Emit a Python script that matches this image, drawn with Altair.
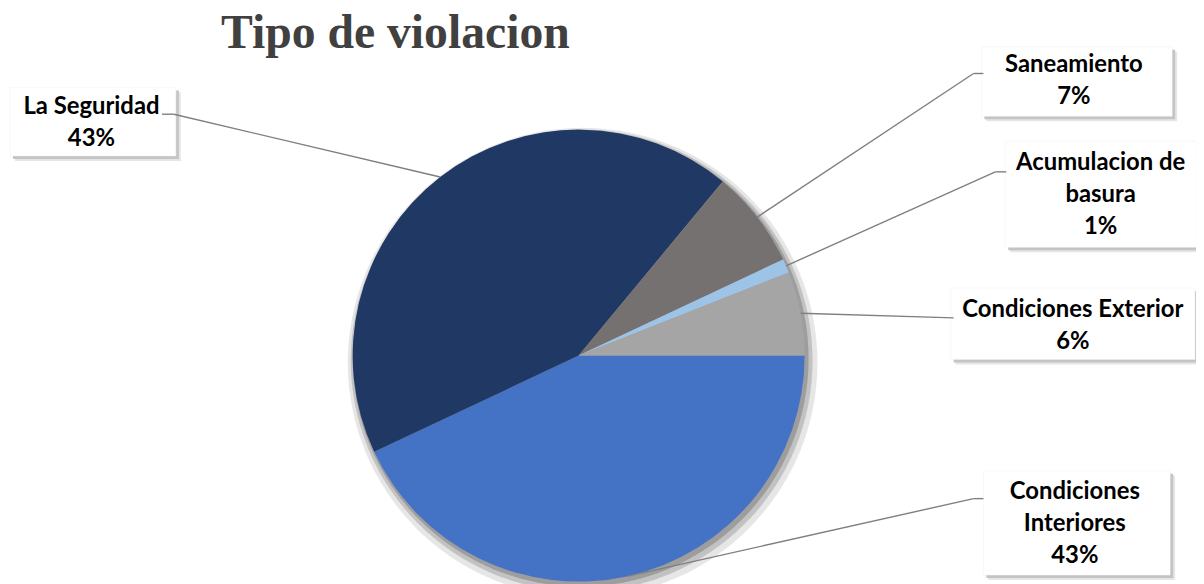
import math
import numpy as np
import pandas as pd
import altair as alt

# ---------------- data ----------------
categories = ["Condiciones Interiores", "La Seguridad", "Saneamiento",
              "Acumulacion de basura", "Condiciones Exterior"]
values = [43, 43, 7, 1, 6]
label_lines = [["Condiciones", "Interiores"], ["La Seguridad"], ["Saneamiento"],
               ["Acumulacion de", "basura"], ["Condiciones Exterior"]]
colors = ["#4472C4", "#203864", "#767171", "#9DC3E6", "#A5A5A5"]
title_text = "Tipo de violacion"

# ---------------- layout (page pixel coordinates) ----------------
X0, Y0 = 8, 8                  # plot origin on page
W, H = 1196, 576
CX, CY, R = 582.5, 356.0, 227.5
START = math.pi / 2            # first slice starts at 3 o'clock
LINE_H = 32.5
TITLE_POS = (398, 46)
# label box (x0, x1, y0, y1), text centre x, first line y, leader knee points
label_layout = [
    dict(box=(990, 1178, 472, 577), tx=1082, ty=493, knee=[(980, 500), (990, 500)]),
    dict(box=(10, 177, 86, 155), tx=92, ty=105.5, knee=[(175, 113), (163, 113)]),
    dict(box=(988, 1180, 45, 115), tx=1081, ty=63.5, knee=[(980, 72), (990, 72)]),
    dict(box=(1012, 1204, 140, 247), tx=1108, ty=162, knee=[(1002, 171), (1013, 171)]),
    dict(box=(957, 1203, 288, 360), tx=1080, ty=310, knee=[(960, 318)]),
]

# ---------------- derived tables ----------------
total = sum(values)
pie_df = pd.DataFrame({"cat": categories, "value": values, "order": range(len(values))})

cum = np.cumsum([0] + values)
boxes, texts, segs = [], [], []
for i, (cat, v) in enumerate(zip(categories, values)):
    lay = label_layout[i]
    x0, x1, y0, y1 = lay["box"]
    boxes.append(dict(cat=cat, x=x0, x2=x1, y=y0, y2=y1))
    lines = label_lines[i] + [f"{v}%"]
    for k, t in enumerate(lines):
        texts.append(dict(cat=cat, x=lay["tx"], y=lay["ty"] + k * LINE_H, t=t))
    mid = START + 2 * math.pi * (cum[i] + v / 2) / total
    px, py = CX + R * math.sin(mid), CY - R * math.cos(mid)
    pts = [(px, py)] + lay["knee"]
    for a, b in zip(pts[:-1], pts[1:]):
        segs.append(dict(cat=cat, x=a[0], y=a[1], x2=b[0], y2=b[1]))

box_df = pd.DataFrame(boxes)
text_df = pd.DataFrame(texts)
seg_df = pd.DataFrame(segs)
title_df = pd.DataFrame({"x": [TITLE_POS[0]], "y": [TITLE_POS[1]], "t": [title_text]})

xs = alt.Scale(domain=[X0, X0 + W], range=[0, W], nice=False, zero=False)
ys = alt.Scale(domain=[Y0, Y0 + H], range=[0, H], nice=False, zero=False)

# ---------------- layers ----------------
def ring(dx, dy, dr, op):
    return alt.Chart(pie_df).mark_arc(color="#000000", opacity=op, theta=0, theta2=2 * math.pi).encode(
        x=alt.value(CX - X0 + dx), y=alt.value(CY - Y0 + dy), radius=alt.value(R + dr))

shadows = [ring(4, 7, 9, 0.02), ring(3, 5, 5, 0.03), ring(2, 3, 2, 0.04)]

pie = alt.Chart(pie_df).mark_arc(stroke=None).encode(
    theta=alt.Theta("value:Q", stack=True,
                    scale=alt.Scale(range=[START, START + 2 * math.pi])),
    color=alt.Color("cat:N", scale=alt.Scale(domain=categories, range=colors), legend=None),
    order=alt.Order("order:Q"),
    x=alt.value(CX - X0), y=alt.value(CY - Y0), radius=alt.value(R),
)

def rect_layer(color, off, **kw):
    return alt.Chart(box_df).mark_rect(color=color, xOffset=off, yOffset=off,
                                       x2Offset=off, y2Offset=off, **kw).encode(
        x=alt.X("x:Q", scale=xs, axis=None), x2="x2",
        y=alt.Y("y:Q", scale=ys, axis=None), y2="y2")

box_shadow2 = rect_layer("#e6e6e6", 5)
box_shadow1 = rect_layer("#c4c4c4", 3)
box = rect_layer("#ffffff", 0, stroke="#f0f0f0", strokeWidth=0.5)

leaders = alt.Chart(seg_df).mark_rule(color="#7f7f7f", strokeWidth=1.4).encode(
    x=alt.X("x:Q", scale=xs, axis=None), y=alt.Y("y:Q", scale=ys, axis=None), x2="x2", y2="y2")

labels = alt.Chart(text_df).mark_text(font="Lato", fontWeight="bold", fontSize=24,
                                      color="#000000", align="center", baseline="middle").encode(
    x=alt.X("x:Q", scale=xs, axis=None), y=alt.Y("y:Q", scale=ys, axis=None), text="t:N")

title = alt.Chart(title_df).mark_text(font="Liberation Serif", fontWeight="bold", fontSize=48,
                                      color="#404040", align="center", baseline="alphabetic").encode(
    x=alt.X("x:Q", scale=xs, axis=None), y=alt.Y("y:Q", scale=ys, axis=None), text="t:N")

chart = alt.layer(*shadows, pie, box_shadow2, box_shadow1, box, leaders, labels, title).properties(
    width=W, height=H,
    autosize=alt.AutoSizeParams(type="none"),
    padding={"left": 0, "right": 0, "top": 0, "bottom": 0},
).configure_view(stroke=None).resolve_scale(x="shared", y="shared")

chart.save("out.html", embed_options={"renderer": "svg", "actions": False})
